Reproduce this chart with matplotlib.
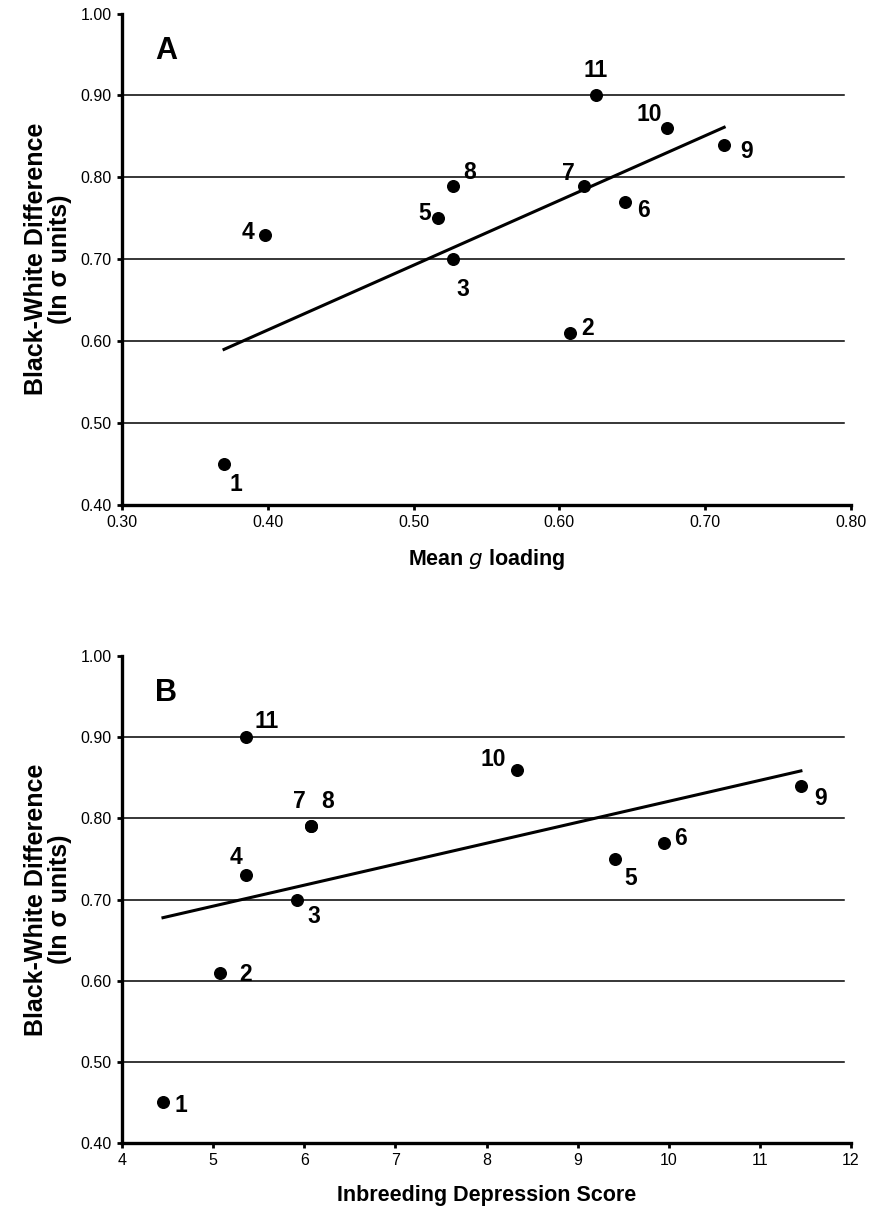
import numpy as np
import matplotlib
matplotlib.use("Agg")
import matplotlib.pyplot as plt

plt.rcParams['font.family'] = ['Liberation Sans', 'DejaVu Sans']

# test numbers 1..11
test_ids = ["1", "2", "3", "4", "5", "6", "7", "8", "9", "10", "11"]

# Black-White difference (in sigma units), same for both panels
bw_diff = [0.45, 0.61, 0.70, 0.73, 0.75, 0.77, 0.79, 0.79, 0.84, 0.86, 0.90]

# panel A: mean g loading
g_loading = [0.37, 0.607, 0.527, 0.398, 0.517, 0.645, 0.617, 0.527, 0.713, 0.674, 0.625]

# panel B: inbreeding depression score
inbreeding = [4.45, 5.08, 5.92, 5.36, 9.41, 9.95, 6.07, 6.07, 11.45, 8.33, 5.36]

# label offsets (points) for each numbered dot
offsets_a = [(8.5, -15), (13, 3), (7, -21.5), (-12, 1.5), (-10, 3.5), (13, -6.5),
             (-11.5, 8.5), (12, 9.5), (16, -5), (-13, 10), (0, 18)]
offsets_b = [(13, -2), (18, -1.5), (12, -12), (-7, 13), (11.5, -14), (12, 3),
             (-8, 18), (12, 18), (14, -9), (-16.5, 7), (15, 11)]

y_ticks = [0.40, 0.50, 0.60, 0.70, 0.80, 0.90, 1.00]
grid_lines = [0.50, 0.60, 0.70, 0.80, 0.90]


def draw_panel(ax, x, y, offsets, letter, xlim, xticks, xfmt, xlabel):
    ax.set_xlim(*xlim)
    ax.set_ylim(0.40, 1.00)
    for g in grid_lines:
        ax.axhline(g, xmin=0, xmax=0.99, color="black", lw=1.1, zorder=1)

    # least squares regression line over the data range
    slope, icpt = np.polyfit(x, y, 1)
    xs = np.array([min(x), max(x)])
    ax.plot(xs, slope * xs + icpt, color="black", lw=2.2, zorder=2)

    ax.scatter(x, y, s=70, color="black", zorder=3, clip_on=False)
    for xi, yi, lab, off in zip(x, y, test_ids, offsets):
        ax.annotate(lab, (xi, yi), xytext=off, textcoords="offset points",
                    ha="center", va="center", fontsize=16.5, fontweight="bold")

    ax.text(0.045, 0.955, letter, transform=ax.transAxes, fontsize=22,
            fontweight="bold", ha="left", va="top")

    for s in ["top", "right"]:
        ax.spines[s].set_visible(False)
    ax.spines["left"].set_linewidth(2.4)
    ax.spines["bottom"].set_linewidth(2.4)
    ax.set_xticks(xticks)
    ax.set_xticklabels([xfmt.format(t) for t in xticks])
    ax.set_yticks(y_ticks)
    ax.set_yticklabels(["%.2f" % t for t in y_ticks])
    ax.tick_params(direction="out", length=3.5, width=2, labelsize=11.5, pad=4)
    ax.set_ylabel("Black-White Difference\n(In \u03c3 units)", fontsize=18,
                  fontweight="bold", labelpad=6, linespacing=1.0)
    ax.set_xlabel(xlabel, fontsize=15.5, fontweight="bold", labelpad=12)


fig = plt.figure(figsize=(8.7, 12.22), dpi=100)
ax_a = fig.add_axes([0.1402, 0.5867, 0.8380, 0.4022])
ax_b = fig.add_axes([0.1402, 0.0646, 0.8380, 0.3986])

draw_panel(ax_a, g_loading, bw_diff, offsets_a, "A", (0.30, 0.80),
           [0.30, 0.40, 0.50, 0.60, 0.70, 0.80], "{:.2f}",
           "Mean $\\mathit{g}$ loading")
draw_panel(ax_b, inbreeding, bw_diff, offsets_b, "B", (4, 12),
           list(range(4, 13)), "{:d}", "Inbreeding Depression Score")

fig.savefig("out.png", dpi=100)
